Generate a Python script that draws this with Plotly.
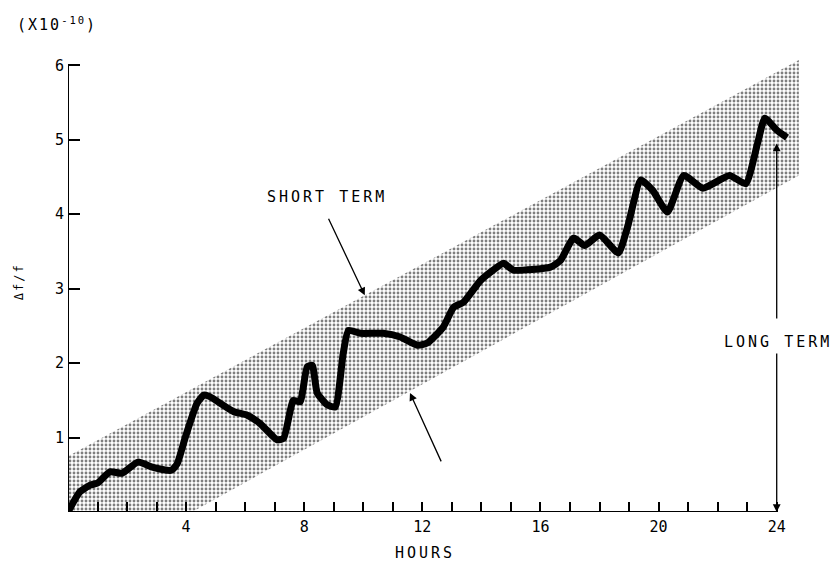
import plotly.graph_objects as go

# Fractional frequency offset over one day (units of 1e-10)
hours = [0, 0.4, 0.75, 1.0, 1.42, 1.83, 2.37, 2.88, 3.5, 3.7, 3.97, 4.37, 4.6, 4.8,
         5.6, 6.07, 6.5, 7.08, 7.3, 7.53, 7.63, 7.86, 8.1, 8.27, 8.44, 8.78, 9.05,
         9.32, 9.5, 9.9, 10.68, 11.25, 11.83, 12.17, 12.7, 13.06, 13.4, 13.97, 14.4,
         14.75, 15.08, 16.34, 16.68, 17.12, 17.5, 18.0, 18.64, 18.95, 19.4, 19.8,
         20.3, 20.85, 21.5, 22.4, 22.95, 23.35, 23.6, 24.0, 24.35]
delta_f = [0, 0.27, 0.36, 0.39, 0.54, 0.52, 0.67, 0.60, 0.56, 0.65, 1.0, 1.46, 1.57, 1.55,
           1.35, 1.30, 1.19, 0.97, 0.99, 1.37, 1.5, 1.48, 1.95, 1.97, 1.6, 1.44, 1.41,
           2.13, 2.44, 2.40, 2.40, 2.35, 2.24, 2.27, 2.48, 2.75, 2.82, 3.11, 3.25,
           3.34, 3.25, 3.29, 3.38, 3.68, 3.58, 3.72, 3.48, 3.83, 4.46, 4.32,
           4.03, 4.52, 4.35, 4.52, 4.41, 4.95, 5.29, 5.13, 5.03]

# Short-term band edges (linear drift)
upper_start, upper_slope = 0.75, 0.215
lower_zero, lower_slope = 4.2, 0.22
band_end = 24.75

x_ticks = list(range(0, 25))
x_labels = [str(h) if h % 4 == 0 and h > 0 else "" for h in x_ticks]
y_ticks = [1, 2, 3, 4, 5, 6]
y_labels = ["1", "2", "3", "4", "5", "6"]

FONT = "DejaVu Sans Mono"

band_x = [0, lower_zero, band_end, band_end, 0, 0]
band_y = [0, 0,
          lower_slope * (band_end - lower_zero),
          upper_start + upper_slope * band_end,
          upper_start, 0]

fig = go.Figure()
fig.add_trace(go.Scatter(
    x=band_x, y=band_y, mode="lines", fill="toself",
    line=dict(width=0, color="rgba(0,0,0,0)"),
    fillcolor="white",
    fillpattern=dict(shape=".", size=4, solidity=0.4, fgcolor="black", bgcolor="white"),
    hoverinfo="skip", showlegend=False,
))
fig.add_trace(go.Scatter(
    x=hours, y=delta_f, mode="lines",
    line=dict(color="black", width=7, shape="spline", smoothing=0.5),
    showlegend=False,
))

# Axis lines stop at the last labelled value
fig.add_shape(type="line", x0=0, x1=24, y0=0, y1=0, xref="x", yref="y",
              line=dict(color="black", width=2))
fig.add_shape(type="line", x0=0, x1=0, y0=0, y1=6, xref="x", yref="y",
              line=dict(color="black", width=2))

arrow_style = dict(showarrow=True, arrowhead=2, arrowsize=1.2, arrowwidth=1.3,
                   arrowcolor="black", axref="x", ayref="y", xref="x", yref="y",
                   standoff=0, startstandoff=0, text="")


def spaced(s, px=3):
    return f'<span style="letter-spacing:{px}px">{s}</span>'


# SHORT TERM label and its arrows to the band edges
fig.add_annotation(x=10.05, y=2.91, ax=8.8, ay=3.96, **arrow_style)
fig.add_annotation(x=11.58, y=1.60, ax=12.66, ay=0.66, **arrow_style)
fig.add_annotation(x=8.77, y=4.23, text=spaced("SHORT TERM"), showarrow=False,
                   xref="x", yref="y", font=dict(family=FONT, size=15, color="black"))

# LONG TERM double arrow at hour 24
fig.add_annotation(x=24, y=4.95, ax=24, ay=2.58, **arrow_style)
fig.add_annotation(x=24, y=0.0, ax=24, ay=2.15, **arrow_style)
fig.add_annotation(x=24.05, y=2.28, text=spaced("LONG TERM"), showarrow=False,
                   xref="x", yref="y", font=dict(family=FONT, size=15, color="black"))

# Axis titles and scale factor
fig.add_annotation(x=0.474, y=-0.087, text=spaced("HOURS"), showarrow=False,
                   xref="paper", yref="paper", xanchor="center", yanchor="middle",
                   font=dict(family=FONT, size=15, color="black"))
fig.add_annotation(x=-0.071, y=1.04, text=spaced("(X10<sup>-10</sup>)", 2),
                   showarrow=False, xref="paper", yref="paper",
                   xanchor="left", yanchor="middle",
                   font=dict(family=FONT, size=15, color="black"))
fig.add_annotation(x=-0.065, y=0.49, text=spaced("Δf/f", 2), showarrow=False,
                   textangle=-90, xref="paper", yref="paper",
                   xanchor="center", yanchor="middle",
                   font=dict(family=FONT, size=12, color="black"))

fig.update_xaxes(range=[0, 25.5], showgrid=False, zeroline=False, showline=False,
                 tickmode="array", tickvals=x_ticks, ticktext=x_labels,
                 ticks="inside", ticklen=10, tickwidth=2, tickcolor="black",
                 tickfont=dict(family=FONT, size=15, color="black"),
                 ticklabelstandoff=4)
fig.update_yaxes(range=[0, 6.3], showgrid=False, zeroline=False, showline=False,
                 tickmode="array", tickvals=y_ticks, ticktext=y_labels,
                 ticks="inside", ticklen=12, tickwidth=2, tickcolor="black",
                 tickfont=dict(family=FONT, size=15, color="black"),
                 ticklabelstandoff=3)

fig.update_layout(width=833, height=567, plot_bgcolor="white", paper_bgcolor="white",
                  margin=dict(l=68, r=12, t=43, b=55), showlegend=False)

fig.write_html("out.html")
